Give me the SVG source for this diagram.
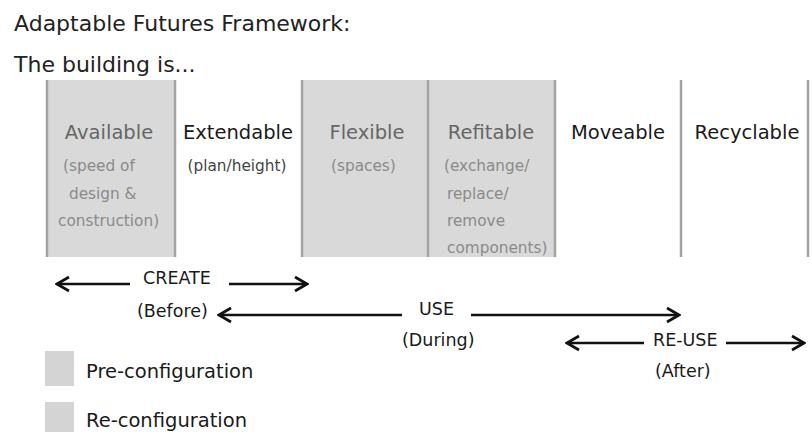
<svg xmlns="http://www.w3.org/2000/svg" width="812" height="432" viewBox="0 0 812 432">
<style>
text{font-family:"DejaVu Sans",Verdana,sans-serif}
.title{font-size:22px;fill:#222}
.head{font-size:19.5px;text-anchor:middle}
.hg{fill:#666}
.hb{fill:#1a1a1a}
.sub{font-size:15.3px;fill:#8a8a8a}
.subd{font-size:15.3px;fill:#444;text-anchor:middle}
.box{fill:#d9d9d9}
.div{stroke:#a3a3a3;stroke-width:2.5}
.lab{font-size:17.5px;fill:#1a1a1a}
.leg{font-size:19.5px;fill:#1a1a1a}
.arr{stroke:#111;stroke-width:2.5;fill:none;marker-end:url(#ah)}
</style>
<defs>
<marker id="ah" viewBox="-15 -9 17 18" refX="0" refY="0" markerWidth="17" markerHeight="18" markerUnits="userSpaceOnUse" orient="auto">
<path d="M-12,-7 L0,0 L-12,7" fill="none" stroke="#111" stroke-width="2.7" stroke-linejoin="miter"/>
</marker>
</defs>
<rect width="812" height="432" fill="#fff"/>
<text class="title" x="14" y="31">Adaptable Futures Framework:</text>
<text class="title" x="14" y="72">The building is...</text>

<g id="available">
<rect class="box" x="47" y="80" width="128" height="177"/>
<text class="head hg" x="109" y="139">Available</text>
<text class="sub" x="63" y="171">(speed of</text>
<text class="sub" x="69" y="199">design &amp;</text>
<text class="sub" x="58" y="226">construction)</text>
</g>
<g id="extendable">
<text class="head hb" x="238" y="139">Extendable</text>
<text class="subd" x="237" y="171">(plan/height)</text>
</g>
<g id="flexible">
<rect class="box" x="302" y="80" width="126" height="177"/>
<text class="head hg" x="367" y="139">Flexible</text>
<text class="sub" x="331" y="171">(spaces)</text>
</g>
<g id="refitable">
<rect class="box" x="428" y="80" width="127" height="177"/>
<text class="head hg" x="491" y="139">Refitable</text>
<text class="sub" x="444" y="171">(exchange/</text>
<text class="sub" x="447" y="199">replace/</text>
<text class="sub" x="447" y="226">remove</text>
<text class="sub" x="447" y="253">components)</text>
</g>
<g id="moveable">
<text class="head hb" x="618" y="139">Moveable</text>
</g>
<g id="recyclable">
<text class="head hb" x="747" y="139">Recyclable</text>
</g>
<g id="dividers">
<line class="div" x1="47" y1="80" x2="47" y2="257"/>
<line class="div" x1="175" y1="80" x2="175" y2="257"/>
<line class="div" x1="302" y1="80" x2="302" y2="257"/>
<line class="div" x1="428" y1="80" x2="428" y2="257"/>
<line class="div" x1="555" y1="80" x2="555" y2="257"/>
<line class="div" x1="681" y1="80" x2="681" y2="257"/>
<line class="div" x1="808" y1="80" x2="808" y2="257"/>
</g>

<g id="create">
<text class="lab" x="143" y="284">CREATE</text>
<text class="lab" x="137" y="317">(Before)</text>
</g>
<g id="use">
<text class="lab" x="419" y="315">USE</text>
<text class="lab" x="402" y="346">(During)</text>
</g>
<g id="reuse">
<text class="lab" x="653" y="346">RE-USE</text>
<text class="lab" x="655" y="377">(After)</text>
</g>

<g id="connectors">
<line class="arr" x1="130" y1="284" x2="57" y2="284"/>
<line class="arr" x1="229" y1="284" x2="307" y2="284"/>
<line class="arr" x1="402" y1="315" x2="219" y2="315"/>
<line class="arr" x1="471" y1="315" x2="679" y2="315"/>
<line class="arr" x1="644" y1="343" x2="567" y2="343"/>
<line class="arr" x1="726" y1="343" x2="804" y2="343"/>
</g>

<g id="legend-pre">
<rect x="45" y="351" width="29" height="35" fill="#d4d4d4"/>
<text class="leg" x="86" y="378">Pre-configuration</text>
</g>
<g id="legend-re">
<rect x="45" y="402" width="29" height="35" fill="#d4d4d4"/>
<text class="leg" x="86" y="427">Re-configuration</text>
</g>
</svg>
